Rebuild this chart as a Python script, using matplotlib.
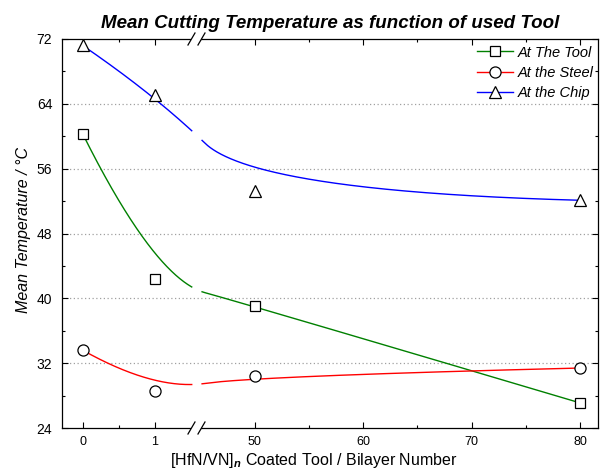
import numpy as np
import matplotlib
matplotlib.use("Agg")
import matplotlib.pyplot as plt
from matplotlib.lines import Line2D
from matplotlib.patches import Rectangle

plt.rcParams['font.family'] = ['Liberation Sans', 'DejaVu Sans']
plt.rcParams['mathtext.fontset'] = 'custom'
plt.rcParams['mathtext.rm'] = 'Liberation Sans'
plt.rcParams['mathtext.it'] = 'Liberation Sans:italic'
plt.rcParams['mathtext.bf'] = 'Liberation Sans:bold'
plt.rcParams['mathtext.bfit'] = 'Liberation Sans:italic:bold'

# ---------------- data ----------------
bilayers = [0, 1, 50, 80]
temp_tool = [60.3, 42.4, 39.0, 27.1]
temp_steel = [33.6, 28.6, 30.4, 31.4]
temp_chip = [71.2, 65.1, 53.2, 52.1]
series_names = ["At The Tool", "At the Steel", "At the Chip"]
x_ticks = [0, 1, 50, 60, 70, 80]
x_minor = [0.5, 55, 65, 75]
y_ticks = [24, 32, 40, 48, 56, 64, 72]

# ---------------- broken x scale ----------------
XL, XR, K = 1.574, 44.62, 0.1499
_xs = np.array([-100.0, XL, XR, 500.0])
_us = np.array([-100.0, XL, XL + 1e-3, XL + 1e-3 + (500.0 - XR) * K])


def fwd(x):
    return np.interp(x, _xs, _us)


def inv(u):
    return np.interp(u, _us, _xs)


def bspline2(px, py, n=600):
    """clamped quadratic B-spline using data points as control points"""
    px = np.asarray(px, float)
    py = np.asarray(py, float)
    m = len(px)
    deg = 2
    inner = np.linspace(0, 1, m - deg + 1)
    knots = np.concatenate([[0] * deg, inner, [1] * deg])
    t = np.linspace(0, 1, n)
    t[-1] -= 1e-9

    def basis(i, k, tt):
        if k == 0:
            return ((knots[i] <= tt) & (tt < knots[i + 1])).astype(float)
        a = 0.0
        b = 0.0
        d1 = knots[i + k] - knots[i]
        d2 = knots[i + k + 1] - knots[i + 1]
        if d1 > 0:
            a = (tt - knots[i]) / d1 * basis(i, k - 1, tt)
        if d2 > 0:
            b = (knots[i + k + 1] - tt) / d2 * basis(i + 1, k - 1, tt)
        return a + b

    B = np.array([basis(i, deg, t) for i in range(m)])
    return B.T @ px, B.T @ py


W, H = 606, 472
fig = plt.figure(figsize=(W / 100, H / 100), dpi=100)
L, R, T, Bt = 62, 598, 39, 428
ax = fig.add_axes([L / W, 1 - Bt / H, (R - L) / W, (Bt - T) / H])
ax.set_xscale('function', functions=(fwd, inv))
ax.set_xlim(inv(-0.286), 81.66)
ax.set_ylim(24, 72)

colors = ['#008000', '#ff0000', '#0000ff']
markers = ['s', 'o', '^']
msizes = [7.5, 8, 9]
gap_lo, gap_hi = 1.512, 1.650

for vals, c, m, ms in zip([temp_tool, temp_steel, temp_chip], colors, markers, msizes):
    cu, cy = bspline2(fwd(np.array(bilayers, float)), vals)
    cy = np.where((cu > gap_lo) & (cu < gap_hi), np.nan, cy)
    ax.plot(inv(cu), cy, color=c, lw=1.0, zorder=3)
    ax.plot(bilayers, vals, linestyle='none', marker=m, ms=ms, mfc='white',
            mec='black', mew=0.9, zorder=4, clip_on=False)

# grid
for yv in y_ticks[1:-1]:
    ax.axhline(yv, color='#a0a0a0', lw=0.9, ls=(0, (1, 2)), zorder=1)

ax.set_xticks(x_ticks)
ax.set_xticklabels([str(v) for v in x_ticks])
ax.set_xticks(x_minor, minor=True)
ax.set_yticks(y_ticks)
ax.set_yticks(np.arange(28, 72, 8), minor=True)
ax.tick_params(which='both', direction='in', top=True, right=True, width=0.8, pad=6)
ax.tick_params(axis='x', labelsize=9)
ax.tick_params(axis='y', labelsize=10, pad=7)
ax.tick_params(which='major', length=4)
ax.tick_params(which='minor', length=2.5)
for s in ax.spines.values():
    s.set_linewidth(0.9)

ax.set_xlabel(r"[HfN/VN]$_{\mathbfit{n}}$ Coated Tool / Bilayer Number", fontsize=11.5)
ax.xaxis.set_label_coords((314 - L) / (R - L), -(461 - Bt) / (Bt - T))
ax.xaxis.label.set_va('center')
ax.set_ylabel("Mean Temperature / °C", fontsize=11.5, style='italic')
ax.yaxis.set_label_coords(-(L - 24) / (R - L), (Bt - 230) / (Bt - T))
ax.yaxis.label.set_va('center')

fig.text(330 / W, 1 - 23 / H, "Mean Cutting Temperature as function of used Tool",
         ha='center', va='center', fontsize=13.5, fontweight='bold', style='italic')

handles = [Line2D([], [], color=c, lw=1.0, marker=m, ms=ms, mfc='white', mec='black', mew=0.9)
           for c, m, ms in zip(colors, markers, msizes)]
leg = ax.legend(handles, series_names, loc='upper right', bbox_to_anchor=(1.004, 1.0),
                frameon=False, prop={'style': 'italic', 'size': 10.5},
                handlelength=2.45, handletextpad=0.35, labelspacing=0.42,
                borderaxespad=0.2, borderpad=0.25)

# break marks
fig.canvas.draw()
cx = ax.transData.transform((XL, 24))[0]
for yax in (0, 1):
    yd = ax.transAxes.transform((0, yax))[1]
    fig.add_artist(Rectangle((cx - 5, yd - 2), 10, 4, transform=None, facecolor='white',
                             edgecolor='none', zorder=10))
    for dx in (-5, 5):
        fig.add_artist(Line2D([cx + dx - 3.5, cx + dx + 3.5], [yd - 6, yd + 6], transform=None,
                              color='black', lw=0.9, zorder=11))

fig.savefig("out.png", dpi=100)
